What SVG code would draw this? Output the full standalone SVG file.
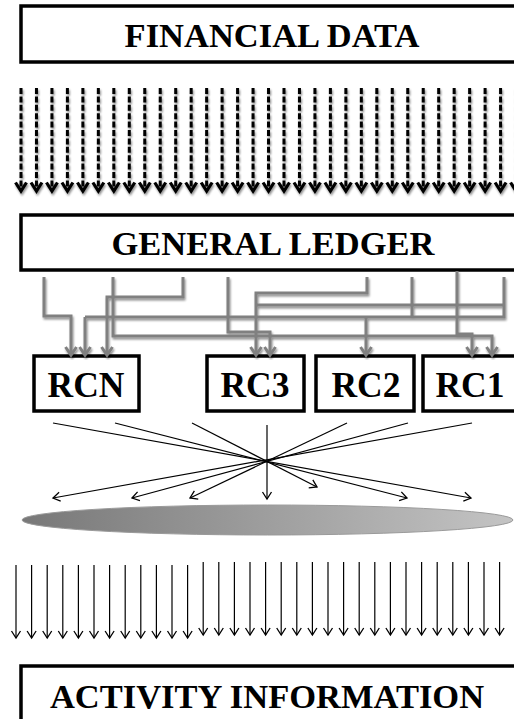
<svg xmlns="http://www.w3.org/2000/svg" width="514" height="719" viewBox="0 0 514 719">
<style>
.box{fill:#fff;stroke:#000;stroke-width:3.5}
.big{font-family:"Liberation Serif","Times New Roman",serif;font-weight:bold;font-size:34.5px;text-anchor:middle;fill:#000}
.rc{font-family:"Liberation Serif","Times New Roman",serif;font-weight:bold;font-size:35.5px;text-anchor:middle;fill:#000}
.dash{stroke:#000;stroke-width:3;stroke-dasharray:6 2.4;fill:none;marker-end:url(#dh)}
.gray{stroke:#808080;stroke-width:3;fill:none;stroke-linejoin:miter}
.garr{marker-end:url(#gh)}
.thin{stroke:#000;stroke-width:1.2;fill:none;marker-end:url(#th)}
</style>
<defs>
<marker id="dh" markerUnits="userSpaceOnUse" orient="auto" refX="0" refY="0" markerWidth="20" markerHeight="20" viewBox="-12 -10 14 20" overflow="visible">
<path d="M-8.5,-5.5 L0,0 L-8.5,5.5" fill="none" stroke="#000" stroke-width="3.2"/>
</marker>
<marker id="gh" markerUnits="userSpaceOnUse" orient="auto" refX="0" refY="0" markerWidth="20" markerHeight="20" viewBox="-12 -10 14 20" overflow="visible">
<path d="M-8,-5.5 L0,0 L-8,5.5" fill="none" stroke="#808080" stroke-width="3"/>
</marker>
<marker id="th" markerUnits="userSpaceOnUse" orient="auto" refX="0" refY="0" markerWidth="20" markerHeight="20" viewBox="-12 -10 14 20" overflow="visible">
<path d="M-7,-4.5 L0,0 L-7,4.5" fill="none" stroke="#000" stroke-width="1.3"/>
</marker>
<linearGradient id="eg" x1="0" y1="0" x2="1" y2="0">
<stop offset="0" stop-color="#787878"/>
<stop offset="1" stop-color="#c4c4c4"/>
</linearGradient>
<filter id="sh" x="-5%" y="-5%" width="110%" height="110%">
<feGaussianBlur in="SourceAlpha" stdDeviation="1.2"/>
<feOffset dx="1" dy="1.5" result="b"/>
<feComponentTransfer><feFuncA type="linear" slope="0.45"/></feComponentTransfer>
<feMerge><feMergeNode/><feMergeNode in="SourceGraphic"/></feMerge>
</filter>
</defs>

<g id="financial-data">
<rect class="box" x="21" y="6" width="520" height="56"/>
<text class="big" x="272" y="47">FINANCIAL DATA</text>
</g>

<g id="general-ledger">
<rect class="box" x="21" y="215" width="520" height="55"/>
<text class="big" x="273" y="255">GENERAL LEDGER</text>
</g>

<g id="rcn">
<rect class="box" x="34" y="356" width="105" height="55"/>
<text class="rc" x="86" y="397">RCN</text>
</g>
<g id="rc3">
<rect class="box" x="207" y="356" width="97" height="55"/>
<text class="rc" x="255" y="397">RC3</text>
</g>
<g id="rc2">
<rect class="box" x="316" y="356" width="98" height="55"/>
<text class="rc" x="366" y="397">RC2</text>
</g>
<g id="rc1">
<rect class="box" x="423" y="356" width="110" height="55"/>
<text class="rc" x="470" y="397">RC1</text>
</g>

<g id="pool">
<ellipse cx="267.5" cy="520" rx="245.5" ry="15" fill="url(#eg)" stroke="#9a9a9a" stroke-width="1"/>
</g>

<g id="activity-information">
<rect class="box" x="21" y="666" width="520" height="70"/>
<text class="big" x="267" y="708">ACTIVITY INFORMATION</text>
</g>

<g id="connectors">
<g id="data-arrows" filter="url(#sh)">
<line class="dash" x1="21" y1="88" x2="21" y2="191"/>
<line class="dash" x1="36.47" y1="88" x2="36.47" y2="191"/>
<line class="dash" x1="51.94" y1="88" x2="51.94" y2="191"/>
<line class="dash" x1="67.41" y1="88" x2="67.41" y2="191"/>
<line class="dash" x1="82.88" y1="88" x2="82.88" y2="191"/>
<line class="dash" x1="98.35" y1="88" x2="98.35" y2="191"/>
<line class="dash" x1="113.82" y1="88" x2="113.82" y2="191"/>
<line class="dash" x1="129.29" y1="88" x2="129.29" y2="191"/>
<line class="dash" x1="144.76" y1="88" x2="144.76" y2="191"/>
<line class="dash" x1="160.23" y1="88" x2="160.23" y2="191"/>
<line class="dash" x1="175.7" y1="88" x2="175.7" y2="191"/>
<line class="dash" x1="191.17" y1="88" x2="191.17" y2="191"/>
<line class="dash" x1="206.64" y1="88" x2="206.64" y2="191"/>
<line class="dash" x1="222.11" y1="88" x2="222.11" y2="191"/>
<line class="dash" x1="237.58" y1="88" x2="237.58" y2="191"/>
<line class="dash" x1="253.05" y1="88" x2="253.05" y2="191"/>
<line class="dash" x1="268.52" y1="88" x2="268.52" y2="191"/>
<line class="dash" x1="283.99" y1="88" x2="283.99" y2="191"/>
<line class="dash" x1="299.46" y1="88" x2="299.46" y2="191"/>
<line class="dash" x1="314.93" y1="88" x2="314.93" y2="191"/>
<line class="dash" x1="330.4" y1="88" x2="330.4" y2="191"/>
<line class="dash" x1="345.87" y1="88" x2="345.87" y2="191"/>
<line class="dash" x1="361.34" y1="88" x2="361.34" y2="191"/>
<line class="dash" x1="376.81" y1="88" x2="376.81" y2="191"/>
<line class="dash" x1="392.28" y1="88" x2="392.28" y2="191"/>
<line class="dash" x1="407.75" y1="88" x2="407.75" y2="191"/>
<line class="dash" x1="423.22" y1="88" x2="423.22" y2="191"/>
<line class="dash" x1="438.69" y1="88" x2="438.69" y2="191"/>
<line class="dash" x1="454.16" y1="88" x2="454.16" y2="191"/>
<line class="dash" x1="469.63" y1="88" x2="469.63" y2="191"/>
<line class="dash" x1="485.1" y1="88" x2="485.1" y2="191"/>
<line class="dash" x1="500.57" y1="88" x2="500.57" y2="191"/>
<line class="dash" x1="516.04" y1="88" x2="516.04" y2="191"/>
</g>

<g id="ledger-links" filter="url(#sh)">
<path class="gray garr" d="M44,277 V316 H71 V355"/>
<path class="gray garr" d="M113,277 V336 H492 V355"/>
<path class="gray garr" d="M183,277 V297 H107 V355"/>
<path class="gray garr" d="M228,277 V332 H270 V355"/>
<path class="gray garr" d="M367,277 V293 H256 V355"/>
<path class="gray" d="M504,277 V317 H85"/>
<path class="gray garr" d="M85,317 V355"/>
<path class="gray" d="M504,305 H256"/>
<path class="gray" d="M412,277 V317"/>
<path class="gray garr" d="M366,317 V355"/>
<path class="gray garr" d="M457,271 V334 H472 V355"/>
</g>

<g id="fan">
<line class="thin" x1="53" y1="423" x2="471" y2="498"/>
<line class="thin" x1="115" y1="423" x2="407" y2="498"/>
<line class="thin" x1="192" y1="423" x2="317" y2="487"/>
<line class="thin" x1="267" y1="425" x2="267" y2="499"/>
<line class="thin" x1="347" y1="423" x2="190" y2="498"/>
<line class="thin" x1="408" y1="423" x2="132" y2="498"/>
<line class="thin" x1="472" y1="423" x2="53" y2="498"/>
</g>

<g id="activity-arrows">
<line class="thin" x1="16" y1="565" x2="16" y2="638"/>
<line class="thin" x1="31.6" y1="565" x2="31.6" y2="638"/>
<line class="thin" x1="47.2" y1="565" x2="47.2" y2="638"/>
<line class="thin" x1="62.8" y1="565" x2="62.8" y2="638"/>
<line class="thin" x1="78.4" y1="565" x2="78.4" y2="638"/>
<line class="thin" x1="94" y1="565" x2="94" y2="638"/>
<line class="thin" x1="109.6" y1="565" x2="109.6" y2="638"/>
<line class="thin" x1="125.2" y1="565" x2="125.2" y2="638"/>
<line class="thin" x1="140.8" y1="565" x2="140.8" y2="638"/>
<line class="thin" x1="156.4" y1="565" x2="156.4" y2="638"/>
<line class="thin" x1="172" y1="565" x2="172" y2="638"/>
<line class="thin" x1="187.6" y1="565" x2="187.6" y2="638"/>
<line class="thin" x1="203.2" y1="562" x2="203.2" y2="635"/>
<line class="thin" x1="218.8" y1="562" x2="218.8" y2="635"/>
<line class="thin" x1="234.4" y1="562" x2="234.4" y2="635"/>
<line class="thin" x1="250" y1="562" x2="250" y2="635"/>
<line class="thin" x1="265.6" y1="562" x2="265.6" y2="635"/>
<line class="thin" x1="281.2" y1="562" x2="281.2" y2="635"/>
<line class="thin" x1="296.8" y1="562" x2="296.8" y2="635"/>
<line class="thin" x1="312.4" y1="562" x2="312.4" y2="635"/>
<line class="thin" x1="328" y1="562" x2="328" y2="635"/>
<line class="thin" x1="343.6" y1="562" x2="343.6" y2="635"/>
<line class="thin" x1="359.2" y1="562" x2="359.2" y2="635"/>
<line class="thin" x1="374.8" y1="562" x2="374.8" y2="635"/>
<line class="thin" x1="390.4" y1="562" x2="390.4" y2="635"/>
<line class="thin" x1="406" y1="562" x2="406" y2="635"/>
<line class="thin" x1="421.6" y1="562" x2="421.6" y2="635"/>
<line class="thin" x1="437.2" y1="562" x2="437.2" y2="635"/>
<line class="thin" x1="452.8" y1="562" x2="452.8" y2="635"/>
<line class="thin" x1="468.4" y1="562" x2="468.4" y2="635"/>
<line class="thin" x1="484" y1="562" x2="484" y2="635"/>
<line class="thin" x1="499.6" y1="562" x2="499.6" y2="635"/>
</g>
</g>
</svg>
